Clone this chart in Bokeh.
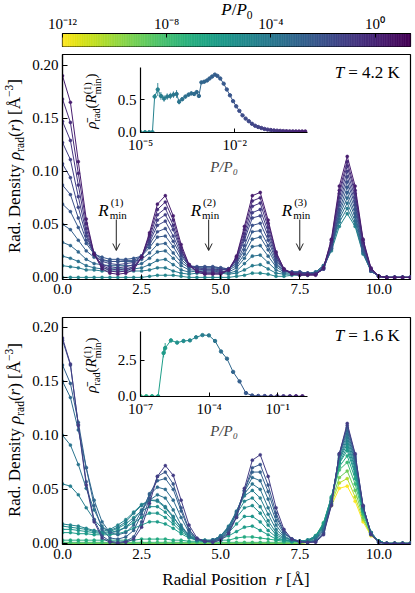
import math
import numpy as np
from bokeh.plotting import figure
from bokeh.models import (ColumnDataSource, FixedTicker, CustomJSTickFormatter, Label, Arrow,
                          OpenHead, LogColorMapper, Range1d, Div)
from bokeh.layouts import column
from bokeh.palettes import Viridis256
from bokeh.transform import transform
from bokeh.embed import file_html
from bokeh.resources import INLINE

# ---------------------------------------------------------------- data
R_GRID = [0, 0.25, 0.5, 0.75, 1.0, 1.25, 1.5, 1.75, 2.0, 2.25, 2.5, 2.75, 3.0, 3.25, 3.5, 3.75,
          4.0, 4.25, 4.5, 4.75, 5.0, 5.25, 5.5, 5.75, 6.0, 6.25, 6.5, 6.75, 7.0, 7.25, 7.5, 7.75,
          8.0, 8.25, 8.5, 8.75, 9.0, 9.25, 9.5, 9.75, 10.0, 10.25, 10.5, 10.75, 11.0]

# T = 4.2 K : pressure of each profile and radial density profiles
TOP_P = [1.6e-5, 6.3e-5, 2.5e-4, 7.9e-4, 2.0e-3, 5.0e-3, 1.26e-2, 3.16e-2, 7.9e-2, 0.20, 0.50, 2.0]
TOP_RHO = [
    [0, 0, 0, 0, 0, 0, 0, 0, 0, 0, 0, .001, .002, .002, .002, .001, 0, 0, 0, 0, 0, 0, .001, .002, .004, .004, .003, .001, .001, .002, .002, .002, .004, .010, .025, .048, .060, .048, .022, .006, .001, 0, 0, 0, 0],
    [.011, .010, .009, .007, .007, .006, .006, .006, .006, .006, .006, .007, .009, .009, .006, .004, .003, .004, .004, .004, .004, .003, .004, .007, .011, .012, .008, .004, .003, .003, .003, .003, .005, .011, .027, .052, .065, .050, .023, .006, .001, 0, 0, 0, 0],
    [.020, .018, .015, .011, .009, .008, .008, .008, .008, .008, .009, .012, .016, .017, .012, .007, .005, .006, .006, .006, .005, .004, .006, .013, .020, .021, .014, .007, .004, .004, .004, .003, .005, .011, .028, .055, .070, .053, .024, .006, .001, 0, 0, 0, 0],
    [.033, .030, .024, .017, .013, .012, .011, .011, .011, .011, .013, .018, .024, .025, .018, .011, .007, .007, .007, .007, .006, .005, .009, .018, .029, .030, .020, .010, .005, .005, .005, .004, .005, .011, .028, .058, .075, .057, .025, .006, .001, 0, 0, 0, 0],
    [.050, .045, .035, .025, .019, .016, .015, .015, .015, .015, .017, .023, .031, .032, .023, .014, .009, .009, .009, .009, .008, .007, .011, .022, .036, .038, .026, .012, .006, .005, .005, .004, .004, .009, .027, .061, .080, .060, .025, .006, .001, 0, 0, 0, 0],
    [.069, .062, .047, .032, .022, .019, .017, .017, .017, .018, .020, .028, .038, .039, .029, .017, .010, .010, .010, .010, .009, .008, .013, .026, .043, .044, .030, .014, .006, .005, .005, .004, .003, .008, .027, .064, .085, .064, .027, .006, .001, 0, 0, 0, 0],
    [.087, .078, .056, .035, .023, .017, .015, .015, .016, .016, .020, .031, .043, .046, .034, .020, .011, .010, .010, .010, .009, .008, .014, .030, .049, .051, .035, .016, .007, .005, .005, .004, .003, .008, .029, .068, .090, .068, .029, .007, .001, 0, 0, 0, 0],
    [.107, .094, .066, .039, .022, .015, .013, .012, .013, .014, .020, .033, .049, .053, .039, .022, .011, .009, .008, .008, .007, .008, .016, .035, .056, .058, .039, .018, .007, .004, .004, .003, .003, .008, .030, .071, .095, .071, .030, .007, .001, 0, 0, 0, 0],
    [.127, .111, .076, .042, .021, .012, .010, .009, .010, .012, .019, .035, .054, .059, .045, .024, .012, .008, .007, .007, .007, .008, .017, .038, .061, .064, .043, .020, .007, .004, .004, .003, .003, .008, .032, .075, .100, .075, .032, .008, .001, 0, 0, 0, 0],
    [.147, .129, .087, .046, .022, .011, .008, .007, .008, .010, .019, .038, .059, .065, .049, .026, .011, .006, .005, .005, .005, .007, .018, .041, .067, .070, .047, .021, .007, .004, .003, .003, .003, .009, .033, .079, .105, .079, .033, .008, .001, 0, 0, 0, 0],
    [.168, .146, .098, .051, .022, .010, .006, .005, .006, .009, .019, .040, .064, .071, .054, .028, .012, .006, .004, .004, .004, .007, .019, .045, .072, .075, .051, .023, .008, .004, .003, .003, .003, .009, .035, .082, .109, .082, .035, .008, .001, 0, 0, 0, 0],
    [.190, .165, .109, .055, .022, .008, .004, .003, .004, .007, .019, .042, .069, .077, .058, .031, .012, .005, .003, .003, .003, .007, .020, .048, .077, .080, .054, .024, .008, .003, .002, .002, .002, .009, .036, .086, .114, .086, .036, .009, .001, 0, 0, 0, 0],
]

# T = 1.6 K
BOT_P = [1.0e-12, 3.2e-11, 1.0e-9, 1.6e-8, 1.6e-7, 1.0e-6, 2.5e-6, 6.3e-6, 1.6e-5, 5.0e-5,
         1.6e-4, 5.0e-4, 1.6e-3, 6.3e-3, 0.1]
BOT_RHO = [
    [0, 0, 0, 0, 0, 0, 0, 0, 0, 0, 0, 0, 0, 0, 0, 0, 0, 0, 0, 0, 0, 0, 0, 0, 0, 0, 0, 0, 0, 0, 0, .001, .006, .016, .035, .051, .053, .039, .020, .007, .002, 0, 0, 0, 0],
    [0, 0, 0, 0, 0, 0, 0, 0, 0, 0, 0, 0, 0, 0, 0, 0, 0, 0, 0, 0, 0, 0, 0, 0, 0, 0, 0, 0, 0, 0, 0, .001, .006, .017, .037, .056, .060, .043, .022, .008, .002, 0, 0, 0, 0],
    [0, 0, 0, 0, 0, 0, 0, 0, 0, 0, 0, 0, 0, 0, 0, 0, 0, 0, 0, 0, 0, 0, 0, 0, 0, 0, 0, 0, 0, 0, 0, .001, .006, .018, .039, .061, .067, .049, .024, .008, .002, 0, 0, 0, 0],
    [.001, .001, .001, .001, .001, .001, .001, .001, .001, .001, .001, .001, .001, .001, .001, .001, .001, .001, .001, .001, .001, .001, .001, .001, .001, .001, .001, .001, .001, .001, .001, .002, .007, .019, .042, .068, .075, .055, .027, .009, .002, 0, 0, 0, 0],
    [.003, .003, .003, .003, .003, .003, .003, .003, .003, .003, .004, .004, .004, .004, .003, .003, .002, .002, .002, .002, .003, .003, .005, .006, .006, .005, .004, .003, .002, .002, .002, .002, .006, .019, .043, .071, .081, .060, .029, .010, .002, 0, 0, 0, 0],
    [.010, .010, .009, .009, .008, .008, .008, .009, .011, .014, .017, .020, .020, .018, .014, .009, .005, .003, .002, .003, .004, .007, .011, .015, .016, .012, .008, .004, .003, .002, .002, .003, .007, .018, .043, .074, .086, .064, .030, .010, .002, 0, 0, 0, 0],
    [.013, .013, .012, .011, .010, .009, .010, .012, .015, .019, .024, .028, .028, .024, .018, .011, .006, .003, .002, .003, .005, .010, .018, .025, .025, .020, .012, .006, .003, .002, .002, .003, .007, .017, .042, .075, .089, .066, .031, .010, .002, 0, 0, 0, 0],
    [.016, .015, .014, .013, .011, .010, .011, .014, .018, .024, .030, .034, .034, .029, .021, .013, .007, .004, .003, .003, .006, .013, .024, .033, .035, .028, .017, .008, .004, .002, .002, .003, .006, .016, .041, .077, .092, .069, .032, .010, .002, 0, 0, 0, 0],
    [.018, .017, .016, .014, .012, .011, .013, .017, .022, .029, .036, .040, .039, .033, .024, .015, .008, .004, .003, .003, .007, .015, .027, .039, .042, .034, .021, .010, .005, .003, .002, .003, .006, .015, .041, .078, .095, .071, .032, .010, .002, 0, 0, 0, 0],
    [.055, .053, .045, .033, .022, .014, .012, .015, .020, .028, .035, .040, .040, .034, .025, .014, .006, .003, .002, .003, .007, .016, .029, .044, .049, .042, .027, .013, .006, .003, .002, .002, .005, .014, .040, .079, .098, .074, .033, .010, .002, 0, 0, 0, 0],
    [.100, .091, .073, .051, .031, .016, .010, .011, .015, .022, .031, .040, .045, .042, .031, .017, .007, .003, .002, .003, .007, .015, .030, .046, .055, .050, .033, .017, .007, .003, .002, .001, .004, .013, .039, .081, .101, .076, .034, .010, .001, 0, 0, 0, 0],
    [.150, .135, .105, .070, .040, .020, .010, .008, .010, .017, .030, .045, .052, .050, .040, .024, .010, .004, .002, .003, .006, .014, .029, .048, .061, .058, .041, .021, .009, .004, .002, .001, .003, .012, .039, .082, .104, .078, .034, .009, .001, 0, 0, 0, 0],
    [.165, .148, .112, .070, .035, .013, .005, .004, .006, .012, .027, .046, .058, .060, .050, .030, .012, .004, .002, .003, .005, .012, .028, .049, .066, .066, .048, .025, .010, .004, .002, .001, .002, .010, .037, .082, .107, .080, .034, .009, .001, 0, 0, 0, 0],
    [.188, .165, .110, .057, .022, .007, .002, .001, .002, .006, .020, .042, .062, .066, .055, .033, .013, .004, .002, .002, .004, .010, .025, .049, .070, .073, .054, .028, .011, .004, .002, .001, .002, .009, .036, .083, .109, .082, .035, .009, .001, 0, 0, 0, 0],
    [.190, .166, .109, .054, .020, .005, .001, 0, .001, .004, .015, .037, .062, .072, .063, .040, .017, .005, .002, .001, .003, .009, .024, .051, .077, .082, .062, .033, .013, .004, .001, .001, .001, .008, .035, .083, .111, .083, .035, .008, .001, 0, 0, 0, 0],
]

# insets: mean density at R_min^(1) versus P/P0
IN_TOP_P = [1.0e-5, 1.4e-5, 1.9e-5, 2.4e-5, 2.82e-5, 3.55e-5, 4.47e-5, 5.62e-5, 7.08e-5, 8.91e-5,
            1.12e-4, 1.41e-4, 1.70e-4, 2.14e-4, 2.69e-4, 3.39e-4, 4.17e-4, 5.13e-4, 6.17e-4, 7.24e-4, 8.71e-4,
            1.07e-3, 1.32e-3, 1.58e-3, 1.91e-3, 2.34e-3, 2.82e-3, 3.47e-3, 4.47e-3, 5.62e-3, 7.08e-3, 8.91e-3,
            1.12e-2, 1.41e-2, 1.78e-2, 2.24e-2, 2.82e-2, 3.55e-2, 4.47e-2, 5.62e-2, 7.08e-2, 8.91e-2,
            0.112, 0.141, 0.178, 0.224, 0.282, 0.355, 0.447, 0.562, 0.708, 0.891, 1.12, 1.41, 1.78]
IN_TOP_RHO = [0, 0, 0, 0, .55, .66, .56, .52, .55, .56,
              .58, .59, .47, .51, .55, .58, .60, .59, .62, .56, .77,
              .78, .80, .83, .86, .89, .87, .83, .75, .66, .57, .48,
              .40, .33, .26, .21, .17, .13, .10, .08, .065, .05,
              .04, .033, .027, .023, .02, .017, .015, .013, .012, .011, .010, .010, .010]
IN_TOP_ERR = [0, 0, 0, 0, .04, .10, .06, .05, .05, .05,
              .05, .06, .04, .03, .03, .03, .03, .03, .03, .03, .02,
              .02, .02, .02, .02, .02, .02, .01, .01, .01, .01, .01,
              0, 0, 0, 0, 0, 0, 0, 0, 0, 0,
              0, 0, 0, 0, 0, 0, 0, 0, 0, 0, 0, 0, 0]
IN_BOT_P = [1.0e-7, 1.8e-7, 3.2e-7, 5.9e-7, 1.02e-6, 1.20e-6, 2.14e-6, 3.98e-6, 7.59e-6, 1.45e-5,
            2.69e-5, 5.13e-5, 9.77e-5, 1.82e-4, 3.31e-4, 6.03e-4, 1.12e-3, 2.14e-3, 4.07e-3, 7.59e-3,
            1.41e-2, 2.69e-2, 5.01e-2, 9.55e-2, 0.178, 0.339, 0.631, 1.20]
IN_BOT_RHO = [0, 0, 0, 0, 3.00, 3.35, 3.88, 3.73, 3.84, 3.88, 4.10, 4.25, 4.23, 3.84, 3.11, 2.61,
              1.69, 1.03, 0.22, 0.05, 0.02, 0.01, 0, 0, 0, 0, 0, 0]
IN_BOT_ERR = [0, 0, 0, 0, .30, .35, .15, .12, .12, .10, .08, .05, .05, .04, .04, .04, .03, .03, .02,
              0, 0, 0, 0, 0, 0, 0, 0, 0]

RMIN_R = [1.70, 4.62, 7.50]
RMIN_TAGS = ["(1)", "(2)", "(3)"]
TEMPS = ["4.2", "1.6"]
X_TICKS = [0, 2.5, 5.0, 7.5, 10.0]
Y_TICKS = [0, 0.05, 0.10, 0.15, 0.20]
CB_TICKS = [1e-12, 1e-8, 1e-4, 1.0]
IN_TOP_XTICKS = [1e-5, 1e-2]
IN_TOP_YTICKS = [0, 0.5]
IN_BOT_XTICKS = [1e-7, 1e-4, 1e-1]
IN_BOT_YTICKS = [0, 2.5]

for rows in (TOP_RHO, BOT_RHO):
    for row in rows:
        assert len(row) == len(R_GRID), len(row)
assert len(IN_TOP_P) == len(IN_TOP_RHO) == len(IN_TOP_ERR)
assert len(IN_BOT_P) == len(IN_BOT_RHO) == len(IN_BOT_ERR)

# ---------------------------------------------------------------- style
FONT = "Liberation Serif"
AXFONT = "'Liberation Serif'"
P_LOW, P_HIGH = 1e-12, 2.3e1
cmap = LogColorMapper(palette=list(reversed(Viridis256)), low=P_LOW, high=P_HIGH)

W = 413
FL, FR = 62, 2
FW = W - FL - FR

REG = {' ': .25, '.': .25, '(': .333, ')': .333, '[': .333, ']': .333, '/': .278, '=': .564,
       '\u2212': .564, 'A': .722, '\u00c5': .722, 'D': .722, 'K': .722, 'P': .556, 'R': .667,
       'T': .611, 'a': .444, 'd': .5, 'e': .444, 'i': .278, 'l': .278, 'm': .778, 'n': .5,
       'o': .5, 'r': .333, 's': .389, 't': .278, 'y': .5}
ITA = {'P': .611, 'R': .611, 'T': .556, 'r': .389}


def tw(text, size, italic=False):
    tab = ITA if italic else REG
    return sum(tab.get(c, REG.get(c, .5)) for c in text) * size


def put(p, pieces, x0, y0, conv):
    pos = 0.0
    for text, size, it, perp, gap, adv in pieces:
        pos += gap
        xd, yd = conv(x0 + pos, y0 + perp)
        p.add_layout(Label(x=xd, y=yd, text=text, text_font=FONT,
                           text_font_size=f"{size}px",
                           text_font_style="italic" if it else "normal",
                           text_align="left", text_baseline="alphabetic", text_color="black"))
        if adv:
            pos += tw(text, size, it)


def lin_conv(x0, x1, fw, y0, y1, fh):
    return lambda sx, sy: (x0 + sx * (x1 - x0) / fw, y0 + sy * (y1 - y0) / fh)


SUP_JS = """
const e = Math.round(Math.log10(tick));
const m = {'-':'\u207b','0':'\u2070','1':'\u00b9','2':'\u00b2','3':'\u00b3','4':'\u2074',
           '5':'\u2075','6':'\u2076','7':'\u2077','8':'\u2078','9':'\u2079'};
return '10' + String(e).split('').map(c => m[c]).join('');
"""


def style_axis(ax, size="15px"):
    ax.major_tick_in = 5
    ax.major_tick_out = 0
    ax.minor_tick_line_color = None
    ax.major_tick_line_color = "black"
    ax.major_tick_line_width = 1
    ax.axis_line_color = "black"
    ax.axis_line_width = 1.2
    ax.major_label_text_font = AXFONT
    ax.major_label_text_font_size = size
    ax.major_label_text_color = "black"
    ax.major_label_standoff = 4


def base_fig(**kw):
    p = figure(output_backend="svg", toolbar_location=None, **kw)
    p.xgrid.visible = False
    p.ygrid.visible = False
    return p


# ---------------------------------------------------------------- colour bar
CB_H, CB_BT, CB_BB = 48, 33, 2
cb = base_fig(width=W, height=CB_H, x_axis_type="log", x_range=Range1d(P_LOW, P_HIGH),
              y_range=Range1d(0, 1), x_axis_location="above", y_axis_location=None,
              min_border_left=FL, min_border_right=FR, min_border_top=CB_BT, min_border_bottom=CB_BB)
edges = np.logspace(math.log10(P_LOW), math.log10(P_HIGH), 201)
cb_src = ColumnDataSource(dict(left=edges[:-1], right=edges[1:], mid=np.sqrt(edges[:-1] * edges[1:])))
cb.quad(left='left', right='right', bottom=0, top=1, source=cb_src,
        fill_color=transform('mid', cmap), line_color=transform('mid', cmap), line_width=0.6)
cb.outline_line_color = "black"
cb.outline_line_width = 1.2
style_axis(cb.xaxis[0])
cb.xaxis.ticker = FixedTicker(ticks=CB_TICKS)
cb.xaxis.formatter = CustomJSTickFormatter(code=SUP_JS)
cb.xaxis.major_tick_in = 4
cb.xaxis.major_label_standoff = 2


# ---------------------------------------------------------------- main panels
def main_panel(height, btop, bbot, y0, y1, Ps, rows, temp, rmin=False):
    p = base_fig(width=W, height=height, x_range=Range1d(0, 11), y_range=Range1d(y0, y1),
                 min_border_left=FL, min_border_right=FR, min_border_top=btop, min_border_bottom=bbot)
    p.outline_line_color = "black"
    p.outline_line_width = 1.2
    style_axis(p.xaxis[0])
    style_axis(p.yaxis[0])
    p.xaxis.ticker = FixedTicker(ticks=X_TICKS)
    p.xaxis.formatter = CustomJSTickFormatter(code="return tick.toFixed(1)")
    p.yaxis.ticker = FixedTicker(ticks=Y_TICKS)
    p.yaxis.formatter = CustomJSTickFormatter(code="return tick.toFixed(2)")
    for P, row in zip(Ps, rows):
        ml = ColumnDataSource(dict(xs=[R_GRID], ys=[row], P=[P]))
        p.multi_line('xs', 'ys', source=ml, line_color=transform('P', cmap), line_width=1.0)
        pts = ColumnDataSource(dict(r=R_GRID, rho=row, P=[P] * len(row)))
        p.scatter('r', 'rho', source=pts, size=3.2, fill_color=transform('P', cmap),
                  line_color=transform('P', cmap), line_width=0.3)
    fh = height - btop - bbot
    conv = lin_conv(0, 11, FW, y0, y1, fh)
    tl = [("T", 17, True, 0, 0, True), ("= " + temp + " K", 17, False, 0, 4, True)]
    put(p, tl, FW - 76, fh - 18, conv)
    if rmin:
        for rr, tag in zip(RMIN_R, RMIN_TAGS):
            ax = rr * FW / 11
            _, ya = conv(0, 60)
            _, yb = conv(0, 29)
            p.add_layout(Arrow(end=OpenHead(size=7, line_width=1, line_color="#222222"),
                               x_start=rr, y_start=ya, x_end=rr, y_end=yb,
                               line_width=1, line_color="#222222"))
            lab = [("R", 17, True, 0, 0, True), (tag, 11, False, 9, 2, False),
                   ("min", 11, False, -4, -1, True)]
            put(p, lab, ax - 18, 69, conv)
    return p


TOP_H, TOP_BT, TOP_BB = 253, 6, 22
BOT_H, BOT_BT, BOT_BB = 290, 16, 47
top = main_panel(TOP_H, TOP_BT, TOP_BB, -0.002, 0.210, TOP_P, TOP_RHO, TEMPS[0], rmin=True)
bot = main_panel(BOT_H, BOT_BT, BOT_BB, -0.001, 0.209, BOT_P, BOT_RHO, TEMPS[1])

# ---------------------------------------------------------------- insets
IN_FW, IN_FH = 176, 68
IN_BL, IN_BR, IN_BT, IN_BB = 53, 3, 5, 42
IN_W = IN_BL + IN_FW + IN_BR
IN_H = IN_BT + IN_FH + IN_BB


def inset(Ps, rho, err, x0, x1, y0, y1, xticks, yticks):
    p = base_fig(width=IN_W, height=IN_H, x_axis_type="log", x_range=Range1d(x0, x1),
                 y_range=Range1d(y0, y1), min_border_left=IN_BL, min_border_right=IN_BR,
                 min_border_top=IN_BT, min_border_bottom=IN_BB)
    p.background_fill_color = None
    p.border_fill_color = None
    p.outline_line_color = None
    style_axis(p.xaxis[0])
    style_axis(p.yaxis[0])
    p.xaxis.major_tick_in = 4
    p.yaxis.major_tick_in = 4
    p.xaxis.ticker = FixedTicker(ticks=xticks)
    p.xaxis.formatter = CustomJSTickFormatter(code=SUP_JS)
    p.yaxis.ticker = FixedTicker(ticks=yticks)
    p.yaxis.formatter = CustomJSTickFormatter(code="return tick.toFixed(1)")
    p.xaxis.axis_label = "P/P\u2080"
    p.xaxis.axis_label_text_font = AXFONT
    p.xaxis.axis_label_text_font_size = "15px"
    p.xaxis.axis_label_text_font_style = "italic"
    p.xaxis.axis_label_standoff = 3
    Ps = list(Ps)
    seg = ColumnDataSource(dict(x0=Ps[:-1], x1=Ps[1:], y0=rho[:-1], y1=rho[1:],
                                c=[math.sqrt(a * b) for a, b in zip(Ps[:-1], Ps[1:])]))
    p.segment('x0', 'y0', 'x1', 'y1', source=seg, line_color=transform('c', cmap), line_width=1.0)
    eb = ColumnDataSource(dict(x=Ps, lo=[r - e for r, e in zip(rho, err)],
                               hi=[r + e for r, e in zip(rho, err)], P=Ps))
    p.segment('x', 'lo', 'x', 'hi', source=eb, line_color=transform('P', cmap), line_width=0.9)
    pts = ColumnDataSource(dict(x=Ps, y=rho, P=Ps))
    p.scatter('x', 'y', source=pts, size=3.4, fill_color=transform('P', cmap),
              line_color=transform('P', cmap))
    return p


in_top = inset(IN_TOP_P, IN_TOP_RHO, IN_TOP_ERR, 1e-5, 2.09, -0.005, 1.0, IN_TOP_XTICKS, IN_TOP_YTICKS)
in_bot = inset(IN_BOT_P, IN_BOT_RHO, IN_BOT_ERR, 1e-7, 2.0, -0.02, 4.5, IN_BOT_XTICKS, IN_BOT_YTICKS)

# ---------------------------------------------------------------- placement (page pixels)
Y_TOP = CB_H                 # 48
Y_BOT = CB_H + TOP_H         # 301
Y_END = Y_BOT + BOT_H        # 591
in_top_y = Y_TOP + TOP_BT + 13 - IN_BT
in_bot_y = Y_BOT + BOT_BT + 14 - IN_BT
in_x = FL + 69 - IN_BL
in_top.margin = (in_top_y - Y_BOT, 0, Y_BOT - (in_top_y + IN_H), in_x)
in_bot.margin = (in_bot_y - Y_END, 0, Y_END - (in_bot_y + IN_H), in_x)

SERIF = "font-family:'Liberation Serif',serif;color:#000;white-space:nowrap;"
SUB = '<sub style="font-size:68%;line-height:0">'
SUP = '<sup style="font-size:68%;line-height:0">'


def text_div(html, cx, cy, length, thick, size, vertical=False):
    if vertical:
        dx, dy = (thick - length) / 2, (length - thick) / 2
        inner = (f'<div style="{SERIF}font-size:{size}px;width:{length}px;height:{thick}px;'
                 f'line-height:{thick}px;text-align:center;'
                 f'transform:translate({dx}px,{dy}px) rotate(-90deg);">{html}</div>')
        w, h = thick, length
    else:
        inner = (f'<div style="{SERIF}font-size:{size}px;width:{length}px;height:{thick}px;'
                 f'line-height:{thick}px;text-align:center;">{html}</div>')
        w, h = length, thick
    d = Div(text=inner, width=w, height=h)
    left, topy = cx - w / 2, cy - h / 2
    d.margin = (int(round(topy - Y_END)), 0, int(round(Y_END - (topy + h))), int(round(left)))
    return d


ylab_html = (f'Rad. Density&nbsp;<i>\u03c1</i>{SUB}rad</sub>(<i>r</i>)&nbsp;'
             f'[\u00c5{SUP}\u22123</sup>]')
inset_html = ('<i>\u03c1\u0304</i>' + SUB + 'rad</sub>(<i>R</i>'
              '<span style="display:inline-block;font-size:68%;line-height:1;vertical-align:-0.5em;'
              'text-align:left">(1)<br>min</span>)')
xlab_html = 'Radial Position&nbsp;&nbsp;<i>r</i>&nbsp;[\u00c5]'
cb_html = f'<i>P</i>/<i>P</i>{SUB}0</sub>'

frame_cx = FL + FW / 2
divs = [
    text_div(cb_html, frame_cx, 10, 70, 18, 17),
    text_div(ylab_html, 15, Y_TOP + TOP_BT + (TOP_H - TOP_BT - TOP_BB) / 2, 230, 22, 17, vertical=True),
    text_div(ylab_html, 15, Y_BOT + BOT_BT + (BOT_H - BOT_BT - BOT_BB) / 2, 230, 22, 17, vertical=True),
    text_div(xlab_html, frame_cx, 580, 220, 20, 17),
    text_div(inset_html, 91, in_top_y + IN_BT + IN_FH / 2, 80, 20, 15, vertical=True),
    text_div(inset_html, 91, in_bot_y + IN_BT + IN_FH / 2, 80, 20, 15, vertical=True),
]

layout = column(cb, top, in_top, bot, in_bot, *divs, spacing=0)
open("out.html", "w").write(file_html(layout, INLINE))
